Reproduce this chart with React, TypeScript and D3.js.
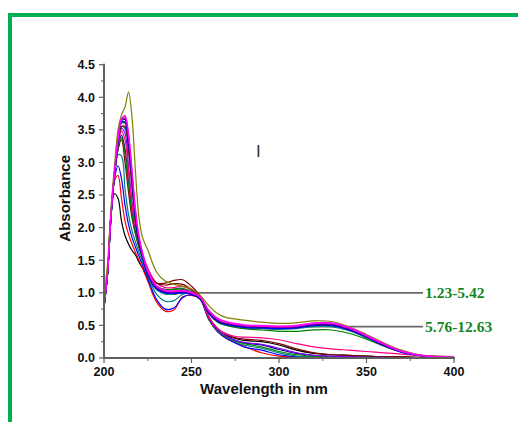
import React from 'react';
import * as d3 from 'd3';

// wavelength grid (nm)
const wavelengths = [
  200, 202, 204, 206, 208, 210, 212, 214, 216, 218, 220, 222, 225, 230, 235, 240, 245, 250,
  255, 260, 265, 270, 275, 280, 290, 300, 310, 320, 330, 340, 350, 360, 370, 380, 390, 400,
];

// spectra without the 325 nm band
const blackSeries = [0.78, 1.3, 2.2, 2.52, 2.45, 2.1, 1.88, 1.75, 1.65, 1.58, 1.47, 1.38, 1.22, 1.06, 1.0, 0.98, 1.0, 0.98, 0.92, 0.62, 0.42, 0.34, 0.3, 0.27, 0.25, 0.2, 0.12, 0.07, 0.05, 0.04, 0.03, 0.02, 0.02, 0.01, 0.01, 0.0];
const redSeries = [0.76, 1.28, 2.15, 2.72, 2.8, 2.45, 2.1, 1.9, 1.75, 1.62, 1.5, 1.38, 1.18, 0.86, 0.72, 0.74, 0.94, 0.96, 0.9, 0.6, 0.4, 0.3, 0.24, 0.18, 0.08, 0.03, 0.02, 0.01, 0.01, 0.01, 0.01, 0.0, 0.0, 0.0, 0.0, 0.0];
const blueSeries = [0.77, 1.27, 2.15, 2.75, 2.95, 2.75, 2.35, 2.05, 1.85, 1.7, 1.56, 1.43, 1.22, 0.9, 0.75, 0.77, 0.93, 0.97, 0.9, 0.6, 0.4, 0.3, 0.23, 0.17, 0.12, 0.05, 0.02, 0.01, 0.01, 0.01, 0.0, 0.0, 0.0, 0.0, 0.0, 0.0];
const tealSeries = [0.8, 1.28, 2.15, 2.78, 3.12, 3.1, 2.6, 2.2, 1.95, 1.78, 1.62, 1.48, 1.25, 0.98, 0.87, 0.88, 0.98, 0.99, 0.92, 0.6, 0.42, 0.32, 0.25, 0.2, 0.15, 0.08, 0.03, 0.02, 0.01, 0.01, 0.01, 0.0, 0.0, 0.0, 0.0, 0.0];
const darkRedSeries = [0.8, 1.3, 2.2, 2.8, 3.2, 3.35, 3.0, 2.55, 2.15, 1.9, 1.7, 1.55, 1.35, 1.15, 1.15, 1.19, 1.2, 1.1, 0.95, 0.63, 0.45, 0.36, 0.31, 0.29, 0.27, 0.22, 0.14, 0.08, 0.05, 0.04, 0.03, 0.02, 0.02, 0.01, 0.01, 0.0];
const pinkSeries = [0.82, 1.3, 2.2, 2.8, 3.25, 3.48, 3.35, 2.85, 2.35, 2.0, 1.78, 1.6, 1.38, 1.15, 1.08, 1.08, 1.1, 1.04, 0.93, 0.62, 0.45, 0.37, 0.33, 0.32, 0.31, 0.28, 0.22, 0.17, 0.14, 0.12, 0.1, 0.08, 0.06, 0.04, 0.03, 0.02];
const navySeries = [0.78, 1.28, 2.18, 2.8, 3.22, 3.42, 3.2, 2.7, 2.25, 1.95, 1.72, 1.55, 1.33, 1.08, 1.02, 1.02, 1.05, 1.0, 0.92, 0.6, 0.42, 0.33, 0.27, 0.23, 0.2, 0.13, 0.07, 0.04, 0.02, 0.02, 0.01, 0.01, 0.0, 0.0, 0.0, 0.0];
const greenSeries = [0.8, 1.3, 2.2, 2.8, 3.2, 3.38, 3.15, 2.65, 2.2, 1.9, 1.7, 1.53, 1.3, 1.1, 1.05, 1.06, 1.07, 1.0, 0.9, 0.58, 0.41, 0.32, 0.26, 0.22, 0.17, 0.1, 0.05, 0.03, 0.02, 0.01, 0.01, 0.0, 0.0, 0.0, 0.0, 0.0];
const violetSeries = [0.79, 1.28, 2.18, 2.8, 3.25, 3.52, 3.45, 2.95, 2.4, 2.0, 1.75, 1.56, 1.32, 1.06, 1.0, 1.0, 1.03, 0.99, 0.91, 0.6, 0.42, 0.33, 0.27, 0.24, 0.21, 0.15, 0.08, 0.04, 0.03, 0.02, 0.01, 0.01, 0.0, 0.0, 0.0, 0.0];

// spectra with the 325 nm band
const oliveBand = [0.95, 1.45, 2.3, 2.95, 3.5, 3.73, 3.85, 4.08, 3.7, 2.85, 2.15, 1.85, 1.66, 1.32, 1.18, 1.13, 1.1, 1.06, 0.96, 0.8, 0.68, 0.62, 0.6, 0.58, 0.55, 0.53, 0.54, 0.57, 0.56, 0.48, 0.36, 0.23, 0.12, 0.05, 0.03, 0.02];
const tealBand = [0.8, 1.29, 2.18, 2.82, 3.28, 3.55, 3.52, 3.18, 2.62, 2.08, 1.74, 1.52, 1.27, 1.05, 0.98, 0.98, 1.0, 0.98, 0.91, 0.68, 0.55, 0.5, 0.48, 0.46, 0.45, 0.44, 0.45, 0.48, 0.48, 0.42, 0.31, 0.19, 0.09, 0.04, 0.02, 0.01];
const greenBand = [0.8, 1.3, 2.2, 2.84, 3.3, 3.6, 3.6, 3.28, 2.72, 2.12, 1.76, 1.54, 1.3, 1.1, 1.05, 1.05, 1.06, 1.02, 0.93, 0.68, 0.55, 0.5, 0.47, 0.45, 0.43, 0.41, 0.41, 0.43, 0.43, 0.38, 0.29, 0.18, 0.09, 0.04, 0.02, 0.01];
const darkRedBand = [0.8, 1.3, 2.2, 2.82, 3.28, 3.55, 3.55, 3.2, 2.65, 2.1, 1.75, 1.55, 1.32, 1.15, 1.12, 1.14, 1.13, 1.05, 0.94, 0.7, 0.57, 0.52, 0.5, 0.48, 0.47, 0.46, 0.47, 0.5, 0.5, 0.44, 0.33, 0.2, 0.1, 0.04, 0.02, 0.01];
const navyBand = [0.79, 1.29, 2.2, 2.84, 3.32, 3.64, 3.66, 3.32, 2.78, 2.18, 1.8, 1.56, 1.29, 1.07, 1.01, 1.0, 1.01, 0.98, 0.91, 0.69, 0.57, 0.52, 0.5, 0.48, 0.47, 0.46, 0.47, 0.51, 0.51, 0.44, 0.33, 0.2, 0.1, 0.04, 0.02, 0.01];
const blueBand = [0.79, 1.29, 2.2, 2.84, 3.32, 3.62, 3.62, 3.3, 2.75, 2.15, 1.78, 1.55, 1.28, 1.06, 1.0, 0.99, 1.0, 0.98, 0.91, 0.68, 0.56, 0.51, 0.49, 0.47, 0.46, 0.45, 0.46, 0.5, 0.5, 0.43, 0.32, 0.19, 0.09, 0.04, 0.02, 0.01];
const purpleBand = [0.8, 1.3, 2.2, 2.85, 3.35, 3.66, 3.68, 3.35, 2.8, 2.2, 1.82, 1.58, 1.3, 1.08, 1.02, 1.01, 1.02, 0.99, 0.92, 0.7, 0.58, 0.53, 0.51, 0.49, 0.48, 0.47, 0.48, 0.52, 0.52, 0.45, 0.33, 0.2, 0.1, 0.04, 0.02, 0.01];
const magentaBand = [0.8, 1.3, 2.2, 2.85, 3.35, 3.65, 3.72, 3.42, 2.85, 2.25, 1.85, 1.6, 1.33, 1.1, 1.03, 1.02, 1.03, 1.0, 0.93, 0.72, 0.6, 0.55, 0.52, 0.5, 0.49, 0.48, 0.49, 0.53, 0.53, 0.46, 0.34, 0.21, 0.1, 0.04, 0.02, 0.01];
const magentaBand2 = [0.81, 1.31, 2.22, 2.86, 3.37, 3.67, 3.71, 3.45, 2.9, 2.28, 1.87, 1.62, 1.35, 1.11, 1.04, 1.03, 1.04, 1.01, 0.94, 0.73, 0.61, 0.56, 0.53, 0.51, 0.5, 0.49, 0.5, 0.54, 0.54, 0.47, 0.35, 0.22, 0.11, 0.05, 0.02, 0.01];

const spectra = [
  { values: blackSeries, color: '#000000' },
  { values: redSeries, color: '#ff0000' },
  { values: blueSeries, color: '#0000ff' },
  { values: tealSeries, color: '#008080' },
  { values: darkRedSeries, color: '#800000' },
  { values: navySeries, color: '#000080' },
  { values: greenSeries, color: '#008000' },
  { values: violetSeries, color: '#8000ff' },
  { values: pinkSeries, color: '#ff0080' },
  { values: tealBand, color: '#008080' },
  { values: greenBand, color: '#008000' },
  { values: darkRedBand, color: '#800000' },
  { values: navyBand, color: '#000080' },
  { values: blueBand, color: '#0000ff' },
  { values: purpleBand, color: '#800080' },
  { values: oliveBand, color: '#808000' },
  { values: magentaBand, color: '#ff00ff' },
  { values: magentaBand2, color: '#ff00ff' },
];

const xTicks = [200, 250, 300, 350, 400];
const yTicks = [0, 0.5, 1.0, 1.5, 2.0, 2.5, 3.0, 3.5, 4.0, 4.5];

// annotation lines: level, start nm, label
const markers = [
  { level: 1.0, from: 250, label: '1.23-5.42' },
  { level: 0.48, from: 280, label: '5.76-12.63' },
];

const App = () => {
  const width = 518;
  const height = 422;
  const axisColor = '#5f5f5f';
  const font = 'Arial, "Liberation Sans", sans-serif';

  const x = d3.scaleLinear().domain([200, 400]).range([104, 454]);
  const y = d3.scaleLinear().domain([0, 4.5]).range([358, 64.7]);

  const line = d3.line<number>()
    .x((d, i) => x(wavelengths[i]))
    .y(d => y(d))
    .curve(d3.curveCatmullRom.alpha(0.5));

  const yMinor = d3.range(0, 4.5, 0.25).filter(v => Math.abs(v * 2 - Math.round(v * 2)) > 0.01);
  const xMinor = [225, 275, 325, 375];

  return (
    <svg
      width={width}
      height={height}
      style={{ position: 'absolute', left: 0, top: 0, display: 'block', background: '#fff' }}
    >
      {/* green frame */}
      <path d={`M10,${height + 2} V15 H${width + 2}`} fill="none" stroke="#00b050" strokeWidth={4} />

      {/* annotation lines */}
      {markers.map(m => (
        <line key={m.label} x1={x(m.from)} x2={423} y1={y(m.level)} y2={y(m.level)} stroke="#6a6a6a" strokeWidth={1.8} />
      ))}

      {/* spectra */}
      <g fill="none" strokeWidth={1.2}>
        {spectra.map((s, i) => (
          <path key={i} d={line(s.values) || ''} stroke={s.color} />
        ))}
      </g>

      {/* y axis */}
      <line x1={x(200)} x2={x(200)} y1={y(4.5) - 1} y2={y(0) + 1} stroke={axisColor} strokeWidth={2} />
      {yTicks.map(t => (
        <g key={t}>
          <line x1={x(200) - 5} x2={x(200)} y1={y(t)} y2={y(t)} stroke={axisColor} strokeWidth={1.2} />
          <text x={95} y={y(t)} dy="0.35em" textAnchor="end" fontFamily={font} fontWeight="bold" fontSize={12.5} fill="#111">
            {t.toFixed(1)}
          </text>
        </g>
      ))}
      {yMinor.map(t => (
        <line key={t} x1={x(200) - 3} x2={x(200)} y1={y(t)} y2={y(t)} stroke={axisColor} strokeWidth={1} />
      ))}

      {/* x axis */}
      <line x1={x(200) - 1} x2={x(400) + 1} y1={y(0)} y2={y(0)} stroke={axisColor} strokeWidth={2} />
      {xTicks.map(t => (
        <g key={t}>
          <line x1={x(t)} x2={x(t)} y1={y(0)} y2={y(0) + 5} stroke={axisColor} strokeWidth={1.2} />
          <text x={x(t)} y={376} textAnchor="middle" fontFamily={font} fontWeight="bold" fontSize={12.5} fill="#111">
            {t}
          </text>
        </g>
      ))}
      {xMinor.map(t => (
        <line key={t} x1={x(t)} x2={x(t)} y1={y(0)} y2={y(0) + 3} stroke={axisColor} strokeWidth={1} />
      ))}

      {/* axis titles */}
      <text x={264} y={394} textAnchor="middle" fontFamily={font} fontWeight="bold" fontSize={15} fill="#111">
        Wavelength in nm
      </text>
      <text
        transform={`translate(70,${y(2.45)}) rotate(-90)`}
        textAnchor="middle"
        fontFamily={font}
        fontWeight="bold"
        fontSize={15}
        fill="#111"
      >
        Absorbance
      </text>

      {/* annotation labels */}
      {markers.map(m => (
        <text
          key={m.label}
          x={425}
          y={y(m.level)}
          dy="0.33em"
          fontFamily='"Liberation Serif", "Times New Roman", serif'
          fontWeight="bold"
          fontSize={15.5}
          fill="#15851f"
        >
          {m.label}
        </text>
      ))}

      {/* panel mark */}
      <text x={256} y={157} fontFamily={font} fontSize={17} fill="#333">I</text>
    </svg>
  );
};

export default App;
